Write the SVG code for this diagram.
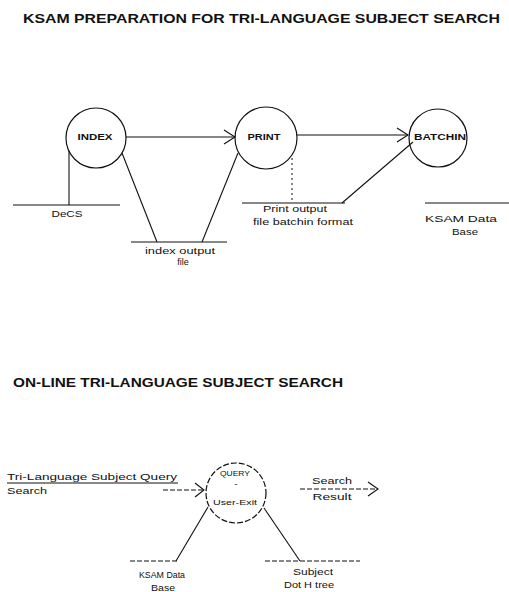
<svg xmlns="http://www.w3.org/2000/svg" width="509" height="592" viewBox="0 0 509 592">
<style>
.title{font-family:"Liberation Sans",Arial,sans-serif;font-weight:bold;font-size:13px;fill:#111}
.lbl{font-family:"Liberation Sans",Arial,sans-serif;font-size:9px;fill:#111}
.proc{fill:none;stroke:#111;stroke-width:1.2}
.dproc{fill:none;stroke:#111;stroke-width:1.2;stroke-dasharray:6,2}
.ln{fill:none;stroke:#111;stroke-width:1.1}
.dl{fill:none;stroke:#111;stroke-width:1.1;stroke-dasharray:5,2}
.dot{fill:none;stroke:#111;stroke-width:1;stroke-dasharray:2,3}
</style>
<rect width="509" height="592" fill="#fff"/>
<text class="title" x="23" y="23" textLength="477" lengthAdjust="spacingAndGlyphs">KSAM PREPARATION FOR TRI-LANGUAGE SUBJECT SEARCH</text>
<text class="title" x="13" y="387" textLength="330" lengthAdjust="spacingAndGlyphs" style="font-size:12.5px">ON-LINE TRI-LANGUAGE SUBJECT SEARCH</text>

<g id="index">
<circle class="proc" cx="96" cy="138" r="30"/>
<text class="lbl" x="95" y="140" text-anchor="middle" textLength="35" lengthAdjust="spacingAndGlyphs" style="font-weight:bold">INDEX</text>
</g>
<g id="print">
<circle class="proc" cx="266" cy="138" r="31"/>
<text class="lbl" x="264" y="140" text-anchor="middle" textLength="33" lengthAdjust="spacingAndGlyphs" style="font-weight:bold">PRINT</text>
</g>
<g id="batchin">
<circle class="proc" cx="438" cy="138" r="29"/>
<text class="lbl" x="440" y="140" text-anchor="middle" textLength="52" lengthAdjust="spacingAndGlyphs" style="font-weight:bold">BATCHIN</text>
</g>
<g id="decs">
<line class="ln" x1="13" y1="205" x2="120" y2="205"/>
<text class="lbl" x="67" y="217" text-anchor="middle" textLength="31" lengthAdjust="spacingAndGlyphs">DeCS</text>
</g>
<g id="index-output">
<line class="ln" x1="131" y1="242" x2="227" y2="242"/>
<text class="lbl" x="180" y="254" text-anchor="middle" textLength="70" lengthAdjust="spacingAndGlyphs">index output</text>
<text class="lbl" x="183" y="265" text-anchor="middle">file</text>
</g>
<g id="print-output">
<line class="ln" x1="242" y1="203" x2="345" y2="203"/>
<text class="lbl" x="295" y="212" text-anchor="middle" textLength="64" lengthAdjust="spacingAndGlyphs">Print output</text>
<text class="lbl" x="303" y="225" text-anchor="middle" textLength="100" lengthAdjust="spacingAndGlyphs">file batchin format</text>
</g>
<g id="ksam-1">
<line class="ln" x1="425" y1="203" x2="509" y2="203"/>
<text class="lbl" x="461" y="222" text-anchor="middle" textLength="72" lengthAdjust="spacingAndGlyphs">KSAM Data</text>
<text class="lbl" x="465" y="235" text-anchor="middle" textLength="26" lengthAdjust="spacingAndGlyphs">Base</text>
</g>

<g id="query">
<circle class="dproc" cx="236" cy="493" r="30"/>
<text class="lbl" x="235" y="476" text-anchor="middle" textLength="30" lengthAdjust="spacingAndGlyphs" style="font-size:8px">QUERY</text>
<text class="lbl" x="236" y="487" text-anchor="middle">-</text>
<text class="lbl" x="235" y="505" text-anchor="middle" textLength="44" lengthAdjust="spacingAndGlyphs" style="font-size:8px">User-Exit</text>
</g>
<g id="query-input">
<line class="ln" x1="7" y1="483" x2="178" y2="483"/>
<text class="lbl" x="7" y="480" textLength="170" lengthAdjust="spacingAndGlyphs">Tri-Language Subject Query</text>
<text class="lbl" x="7" y="494" textLength="40" lengthAdjust="spacingAndGlyphs">Search</text>
</g>
<g id="search-result">
<text class="lbl" x="332" y="484" text-anchor="middle" textLength="40" lengthAdjust="spacingAndGlyphs">Search</text>
<text class="lbl" x="332" y="500" text-anchor="middle" textLength="39" lengthAdjust="spacingAndGlyphs">Result</text>
</g>
<g id="ksam-2">
<line class="dl" x1="130" y1="561" x2="178" y2="561"/>
<text class="lbl" x="162" y="578" text-anchor="middle" textLength="46" lengthAdjust="spacingAndGlyphs">KSAM Data</text>
<text class="lbl" x="163" y="591" text-anchor="middle" textLength="24" lengthAdjust="spacingAndGlyphs">Base</text>
</g>
<g id="subject-tree">
<line class="dl" x1="265" y1="561" x2="360" y2="561"/>
<text class="lbl" x="313" y="575" text-anchor="middle" textLength="40" lengthAdjust="spacingAndGlyphs">Subject</text>
<text class="lbl" x="309" y="588" text-anchor="middle" textLength="50" lengthAdjust="spacingAndGlyphs">Dot H tree</text>
</g>

<g id="connectors">
<line class="ln" x1="126" y1="137" x2="235" y2="137"/>
<polyline class="ln" points="224,130 235,137 224,144"/>
<line class="ln" x1="297" y1="135" x2="408" y2="135"/>
<polyline class="ln" points="397,128 408,135 397,142"/>
<line class="ln" x1="413" y1="142" x2="342" y2="203"/>
<line class="ln" x1="69" y1="151" x2="69" y2="205"/>
<line class="ln" x1="122" y1="153" x2="157" y2="242"/>
<line class="ln" x1="238" y1="153" x2="202" y2="242"/>
<line class="dot" x1="292" y1="158" x2="292" y2="203"/>
<line class="dl" x1="163" y1="490" x2="204" y2="490"/>
<polyline class="ln" points="195,483 204,490 195,497"/>
<line class="dl" x1="300" y1="489" x2="378" y2="489"/>
<polyline class="ln" points="368,482 378,489 368,496"/>
<line class="ln" x1="208" y1="507" x2="176" y2="561"/>
<line class="ln" x1="264" y1="508" x2="300" y2="561"/>
</g>
</svg>
